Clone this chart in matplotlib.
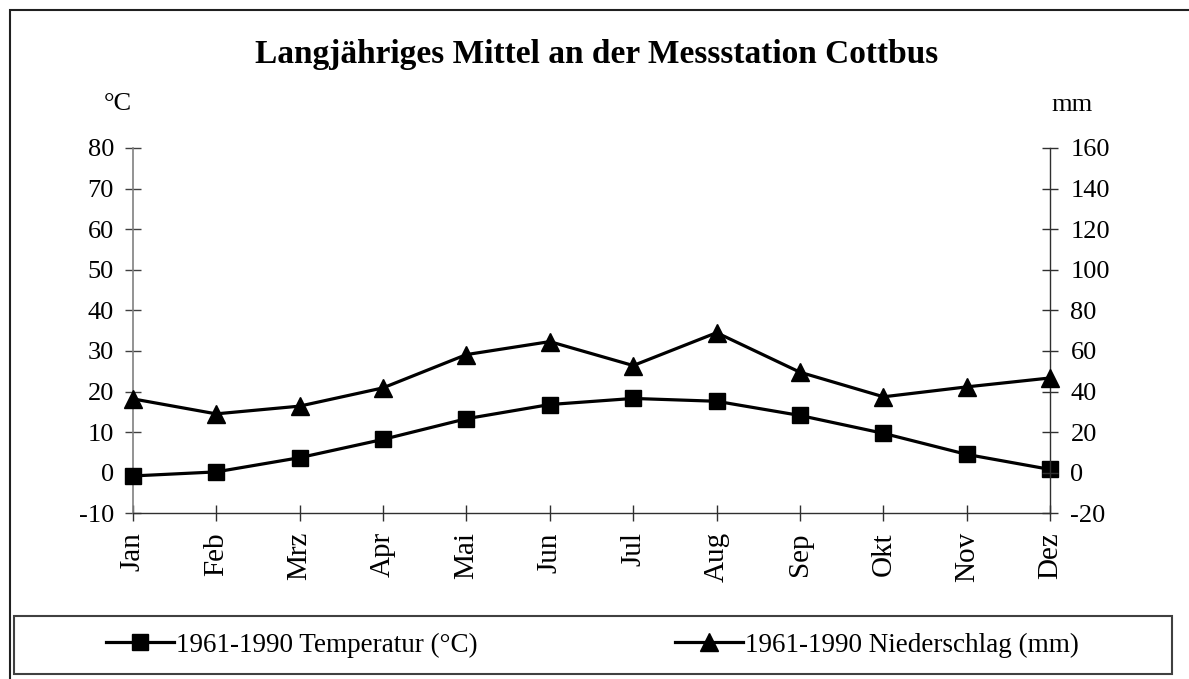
import matplotlib
matplotlib.use("Agg")
import matplotlib.pyplot as plt
from matplotlib.patches import Rectangle

plt.rcParams['font.family'] = ['Liberation Serif', 'DejaVu Serif']

months = ["Jan", "Feb", "Mrz", "Apr", "Mai", "Jun", "Jul", "Aug", "Sep", "Okt", "Nov", "Dez"]
temperature = [-0.8, 0.2, 3.7, 8.2, 13.3, 16.8, 18.3, 17.6, 14.1, 9.7, 4.5, 0.8]
precipitation = [36.4, 29.0, 32.8, 41.8, 58.2, 64.6, 52.8, 69.0, 49.5, 37.4, 42.3, 46.7]
temp_ticks = [-10, 0, 10, 20, 30, 40, 50, 60, 70, 80]
prec_ticks = [-20, 0, 20, 40, 60, 80, 100, 120, 140, 160]
title = "Langjähriges Mittel an der Messstation Cottbus"
label_temp = "1961-1990 Temperatur (°C)"
label_prec = "1961-1990 Niederschlag (mm)"

W, H = 1189, 679
fig = plt.figure(figsize=(W / 100, H / 100), dpi=100)

def fx(px):
    return px / W

def fy(py):
    return 1 - py / H

ax = fig.add_axes([fx(132.7), fy(513.3), fx(1050.3) - fx(132.7), fy(148) - fy(513.3)])
ax2 = ax.twinx()

x = list(range(len(months)))
l1, = ax.plot(x, temperature, color="black", lw=2.3, marker="s", markersize=11.5,
              markerfacecolor="black", markeredgecolor="black", clip_on=False, zorder=5)
l2, = ax2.plot(x, precipitation, color="black", lw=2.3, marker="^", markersize=12.5,
               markerfacecolor="black", markeredgecolor="black", clip_on=False, zorder=5)

ax.set_xlim(0, len(months) - 1)
ax.set_ylim(temp_ticks[0], temp_ticks[-1])
ax2.set_ylim(prec_ticks[0], prec_ticks[-1])
ax.set_yticks(temp_ticks)
ax.set_yticklabels([str(t) for t in temp_ticks])
ax2.set_yticks(prec_ticks)
ax2.set_yticklabels([str(t) for t in prec_ticks])
ax.set_xticks(x)
ax.set_xticklabels(months, rotation=90, va="top", ha="center")

fs = 19
for a in (ax, ax2):
    for s in a.spines.values():
        s.set_visible(False)
ax.spines['left'].set_visible(True)
ax.spines['left'].set_color('#808080')
ax.spines['left'].set_linewidth(1.2)
ax.spines['bottom'].set_visible(True)
ax.spines['bottom'].set_color('#303030')
ax.spines['bottom'].set_linewidth(1.0)
ax2.spines['right'].set_visible(True)
ax2.spines['right'].set_color('#303030')
ax2.spines['right'].set_linewidth(1.0)

ax.tick_params(axis='y', direction='inout', length=11, width=1.0, colors='#404040',
               labelcolor='black', labelsize=fs, pad=8)
ax.tick_params(axis='x', direction='inout', length=11, width=1.0, colors='#303030',
               labelcolor='black', labelsize=21, pad=8)
ax2.tick_params(axis='y', direction='inout', length=11, width=1.0, colors='#303030',
                labelcolor='black', labelsize=fs, pad=9)

fig.text(fx(597), fy(55), title, ha="center", va="center", fontsize=24, fontweight="bold")
fig.text(fx(118), fy(104), "°C", ha="center", va="center", fontsize=fs)
fig.text(fx(1072), fy(105), "mm", ha="center", va="center", fontsize=fs)

# outer border (left and top edges visible)
fig.patches.append(Rectangle((fx(10), -0.2), 2, fy(10) + 0.2, transform=fig.transFigure,
                             fill=False, edgecolor='#202020', lw=1.5, clip_on=False))
# legend box
fig.patches.append(Rectangle((fx(14), fy(674)), fx(1172) - fx(14), fy(616) - fy(674),
                             transform=fig.transFigure, fill=False, edgecolor='#404040', lw=1.5))

common = dict(frameon=False, fontsize=19.5, handlelength=2.5, handletextpad=0.08,
              borderpad=0, borderaxespad=0, loc="center left")
fig.legend([l1], [label_temp], bbox_to_anchor=(fx(106), fy(645)), **common)
fig.legend([l2], [label_prec], bbox_to_anchor=(fx(675), fy(645)), **common)

fig.savefig("out.png", dpi=100)
